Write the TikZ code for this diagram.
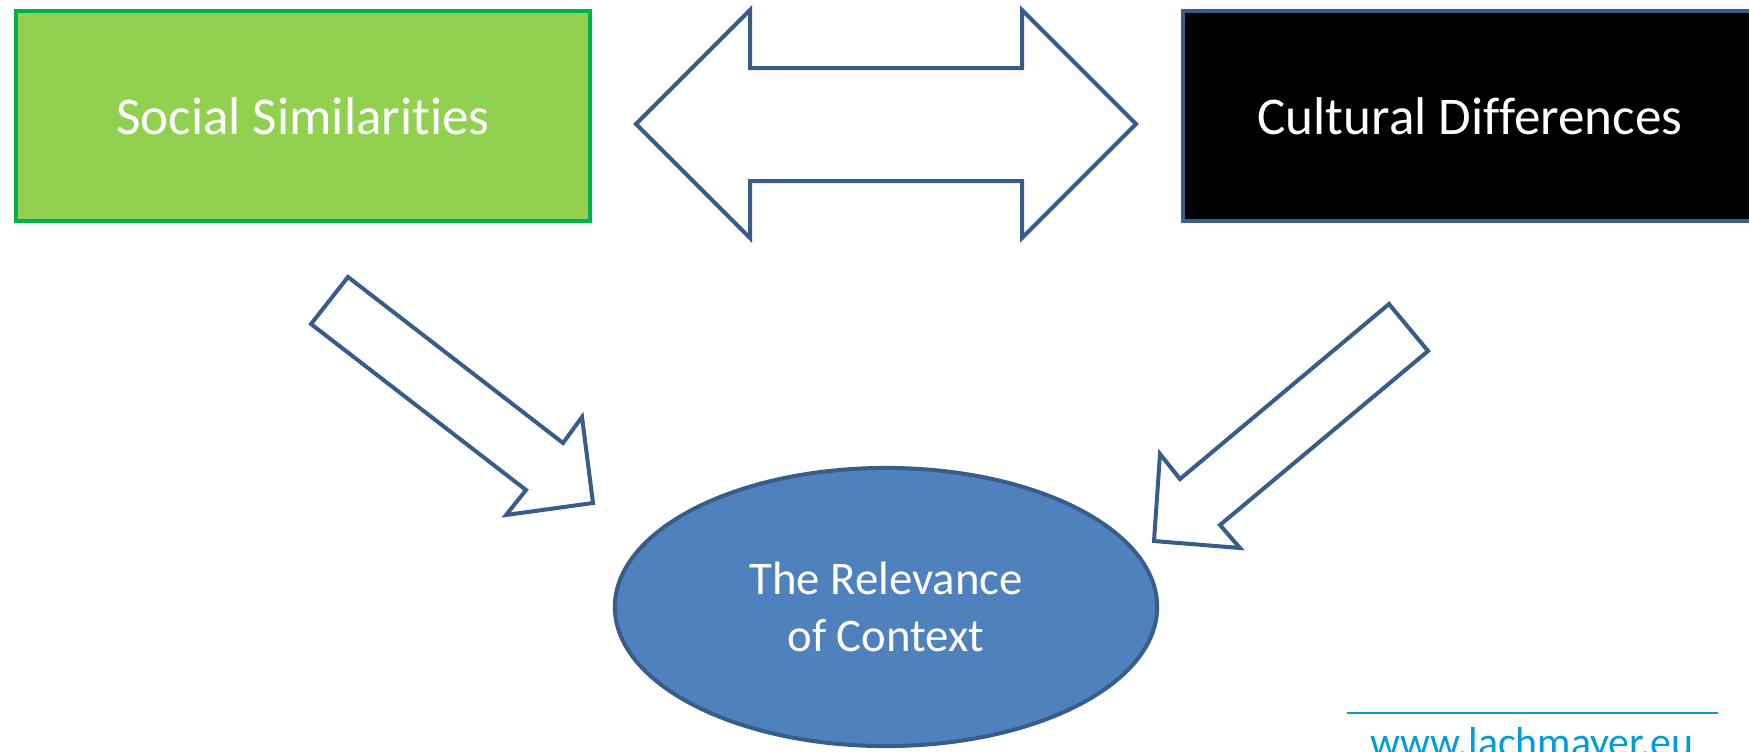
\documentclass[tikz,border=0pt]{standalone}
\usepackage{fontspec}
\setmainfont{Carlito}[Ligatures=NoCommon]
\usetikzlibrary{shapes.geometric}
\definecolor{boxgreen}{HTML}{92D050}
\definecolor{linegreen}{HTML}{00B050}
\definecolor{lineblue}{HTML}{385D8A}
\definecolor{fillblue}{HTML}{4F81BD}
\definecolor{webblue}{HTML}{009DD9}
\begin{document}
\begin{tikzpicture}[x=.01cm,y=-.01cm,
	box/.style={rectangle,minimum width=5.74cm,minimum height=2.09cm,line width=1.14pt,text=white,font=\fontsize{15.1}{18}\selectfont},
	blockarrow/.style={draw=lineblue,line width=1.14pt,fill=white}]
\useasboundingbox (0,0) rectangle (1749,751);
\clip (0,0) rectangle (1749,751);
\begin{scope}
	\node[box,draw=linegreen,fill=boxgreen] (social) at (303,116){Social Similarities};
	\node[box,draw=lineblue,fill=black] (cultural) at (1470,116){Cultural Differences};
\end{scope}
\begin{scope}
	\draw[blockarrow] (636,124)--(750,10)--(750,68)--(1022,68)--(1022,10)--(1136,124)
		--(1022,238)--(1022,181)--(750,181)--(750,238)--cycle;
	\draw[blockarrow] (348,277)--(563,443)--(582,417)--(593,503)--(506,515)--(526,490)--(311,324)--cycle;
	\draw[blockarrow] (1389,304)--(1428,351)--(1220,525)--(1240,548)--(1154,541)--(1160,454)--(1180,479)--cycle;
\end{scope}
	\node[ellipse,draw=lineblue,fill=fillblue,line width=1.14pt,minimum width=5.42cm,minimum height=2.78cm,
		text=white,align=center,font=\fontsize{13.3}{16.2}\selectfont] (context) at (886,607){The Relevance\\of Context};

	\draw[webblue,line width=.77pt] (1347,713)--(1718,713);
	\node[text=webblue,anchor=base,font=\fontsize{11.9}{14}\selectfont] (site) at (1532,756){www.lachmayer.eu};
\end{tikzpicture}
\end{document}
